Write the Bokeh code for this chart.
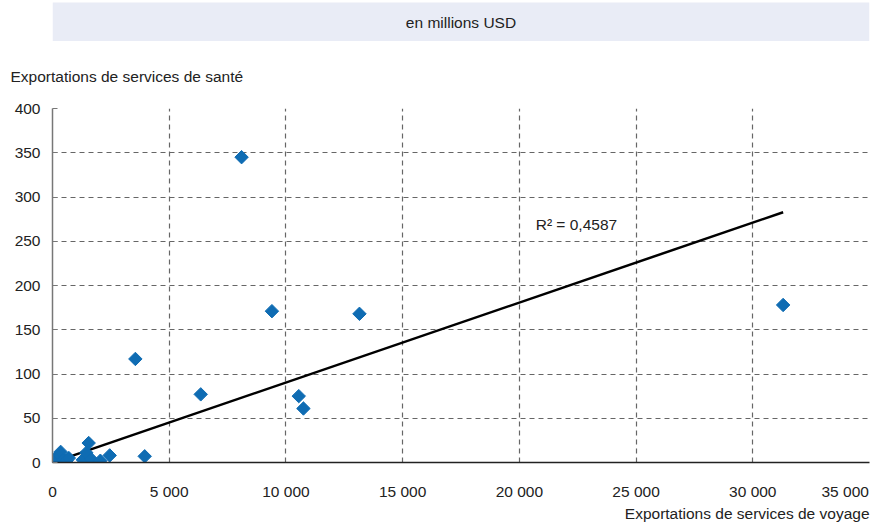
import numpy as np
from bokeh.plotting import figure
from bokeh.layouts import column
from bokeh.models import Range1d, Label, Title, FixedTicker, ColumnDataSource
from bokeh.core.properties import value
from bokeh.embed import file_html
from bokeh.resources import INLINE

# Travel services exports vs. health services exports (USD millions)
travel_exports = [50, 120, 200, 300, 350, 450, 600, 700, 1300, 1450, 1550, 1650,
                  2050, 2450, 3950, 3550, 6350, 8100, 9400, 10550, 10750, 13150, 31300]
health_exports = [2, 5, 0, 8, 12, 3, 2, 5, 3, 11, 22, 4,
                  2, 8, 7, 117, 77, 345, 171, 75, 61, 168, 178]

x_ticks = [0, 5000, 10000, 15000, 20000, 25000, 30000, 35000]
x_tick_labels = ["0", "5 000", "10 000", "15 000", "20 000", "25 000", "30 000", "35 000"]
y_ticks = [0, 50, 100, 150, 200, 250, 300, 350, 400]

unit_text = "en millions USD"
y_title = "Exportations de services de santé"
x_title = "Exportations de services de voyage"
r2_text = "R\u00b2 = 0,4587"

FONT = "Liberation Sans"
TEXT_COLOR = "#222222"
FS = "15.5px"

# --- unit banner on top (its frame lines up with the scatter frame) ---
banner = figure(width=877, height=41, x_range=Range1d(0, 1), y_range=Range1d(41, 0),
                x_axis_type=None, y_axis_type=None, toolbar_location=None,
                output_backend="svg", min_border=0)
banner.outline_line_color = None
banner.quad(left=0, right=1, top=2, bottom=41, fill_color="#e9ecf6", line_color=None)
banner.text(x=[0.5], y=[21.5], text=[unit_text], text_align="center", text_baseline="middle",
            text_font=value(FONT), text_font_size=FS, text_color=TEXT_COLOR)

# --- scatter ---
p = figure(width=877, height=481, x_range=Range1d(0, 35000), y_range=Range1d(0, 400),
           toolbar_location=None, output_backend="svg",
           min_border_left=52, min_border_right=8, min_border_top=67, min_border_bottom=60)
p.outline_line_color = None

p.xaxis.ticker = FixedTicker(ticks=x_ticks)
p.yaxis.ticker = FixedTicker(ticks=y_ticks)
overrides = {t: lab for t, lab in zip(x_ticks, x_tick_labels)}
# one figure space keeps the last label clear of the canvas edge
overrides[x_ticks[-1]] = x_tick_labels[-1] + "\u2007"
p.xaxis.major_label_overrides = overrides

for ax in (p.xaxis, p.yaxis):
    ax.major_label_text_font = FONT
    ax.major_label_text_font_size = FS
    ax.major_label_text_color = TEXT_COLOR
    ax.minor_tick_line_color = None
    ax.major_tick_out = 0

p.xaxis.axis_line_color = "#222222"
p.xaxis.axis_line_width = 1.5
p.xaxis.major_tick_in = 0
p.xaxis.major_label_standoff = 20
p.yaxis.axis_line_color = "#777777"
p.yaxis.axis_line_width = 1.5
p.yaxis.major_tick_in = 5
p.yaxis.major_tick_line_color = "#777777"
p.yaxis.major_label_standoff = 12

for g in (p.xgrid, p.ygrid):
    g.grid_line_color = "#666666"
    g.grid_line_dash = "5 4"
    g.grid_line_width = 1.2
p.xgrid.ticker = FixedTicker(ticks=x_ticks)
p.ygrid.ticker = FixedTicker(ticks=y_ticks)

p.add_layout(Title(text=y_title, align="left", offset=-42, standoff=48,
                   text_font=FONT, text_font_size=FS, text_font_style="normal",
                   text_color=TEXT_COLOR), "above")
p.add_layout(Title(text=x_title, align="right", standoff=1,
                   text_font=FONT, text_font_size=FS, text_font_style="normal",
                   text_color=TEXT_COLOR), "below")

# linear trend through the origin
xs = np.array(travel_exports, dtype=float)
ys = np.array(health_exports, dtype=float)
slope = (xs * ys).sum() / (xs * xs).sum()
x_line = np.array([xs.min(), xs.max()])
p.line(x_line, slope * x_line, line_color="black", line_width=2.5)

src = ColumnDataSource(dict(x=travel_exports, y=health_exports))
p.scatter("x", "y", source=src, marker="square", size=9.5, angle=np.pi / 4,
          fill_color="#0f6cb3", line_color="#0f6cb3")

p.add_layout(Label(x=20700, y=269, text=r2_text, text_baseline="middle",
                   text_font=FONT, text_font_size=FS, text_color=TEXT_COLOR))

layout = column(banner, p, spacing=0)
open("out.html", "w").write(file_html(layout, INLINE))
